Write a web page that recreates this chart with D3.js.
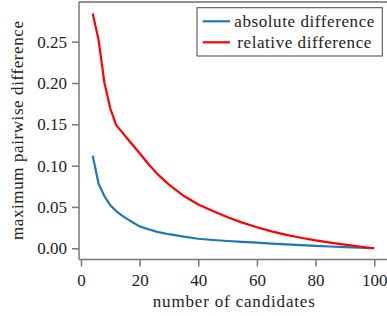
<!DOCTYPE html>
<html><head><meta charset="utf-8"><script src="https://cdn.jsdelivr.net/npm/d3@7"></script></head>
<body style="margin:0">
<svg width="387" height="316" font-family="Liberation Serif"></svg>
<script>
// number of candidates
var candidates = [4, 6, 8, 10, 12, 14, 16, 18, 20, 23, 26, 30, 35, 40, 45, 50, 55, 60, 65, 70, 75, 80, 85, 90, 95, 100];
// maximum pairwise difference
var absoluteDiff = [0.112, 0.078, 0.063, 0.052, 0.045, 0.0395, 0.035, 0.0305, 0.0265, 0.023, 0.0198, 0.017, 0.014,
                    0.0115, 0.0100, 0.0088, 0.0077, 0.0067, 0.0057, 0.0047, 0.0038, 0.0029, 0.0021, 0.0013, 0.0006, 0.0];
var relativeDiff = [0.284, 0.252, 0.200, 0.169, 0.149, 0.1405, 0.132, 0.1235, 0.115, 0.102, 0.090, 0.077, 0.0635,
                    0.053, 0.045, 0.0375, 0.031, 0.0255, 0.0205, 0.0162, 0.0127, 0.0096, 0.0068, 0.0043, 0.002, 0.0];
var xTicks = [0, 20, 40, 60, 80, 100];
var yTicks = [0.00, 0.05, 0.10, 0.15, 0.20, 0.25];
var seriesNames = ["absolute difference", "relative difference"];
var seriesColors = ["#1f77b4", "#ff0000"];

var svg = d3.select("svg");

var x = d3.scaleLinear().domain([-0.68, 104.7]).range([79, 388]);
var y = d3.scaleLinear().domain([-0.013, 0.298]).range([259, 2]);

function serifText(sel) {
  return sel.attr("font-family", "Liberation Serif")
            .style("font-family", "'Liberation Serif'")
            .attr("font-size", 17).attr("fill", "#222");
}

// spines
svg.append("line").attr("x1", 79).attr("x2", 388).attr("y1", 2).attr("y2", 2)
    .attr("stroke", "#222").attr("stroke-width", 1.2);
svg.append("line").attr("x1", 79).attr("x2", 79).attr("y1", 2).attr("y2", 259.5)
    .attr("stroke", "#777").attr("stroke-width", 1.5);
svg.append("line").attr("x1", 79).attr("x2", 388).attr("y1", 259.5).attr("y2", 259.5)
    .attr("stroke", "#777").attr("stroke-width", 1.5);

// x axis
var xAxis = svg.append("g").attr("transform", "translate(0,259.5)")
    .call(d3.axisBottom(x).tickValues(xTicks).tickSize(7).tickPadding(6).tickFormat(d3.format("d")));
xAxis.attr("font-family", "Liberation Serif").attr("font-size", 17);
xAxis.select(".domain").remove();
xAxis.selectAll("line").attr("stroke", "#777").attr("stroke-width", 1.5);
serifText(xAxis.selectAll("text")).attr("dy", "0.78em");

// y axis
var yAxis = svg.append("g").attr("transform", "translate(79,0)")
    .call(d3.axisLeft(y).tickValues(yTicks).tickSize(7).tickPadding(5).tickFormat(d3.format(".2f")));
yAxis.attr("font-family", "Liberation Serif").attr("font-size", 17);
yAxis.select(".domain").remove();
yAxis.selectAll("line").attr("stroke", "#777").attr("stroke-width", 1.5);
serifText(yAxis.selectAll("text")).attr("dy", "0.33em");

// lines
var line = d3.line()
    .x(function(d) { return x(d[0]); })
    .y(function(d) { return y(d[1]); });

[absoluteDiff, relativeDiff].forEach(function(vals, i) {
  svg.append("path")
      .datum(candidates.map(function(c, j) { return [c, vals[j]]; }))
      .attr("fill", "none")
      .attr("stroke", seriesColors[i])
      .attr("stroke-width", 2.2)
      .attr("stroke-linejoin", "round")
      .attr("d", line);
});

// axis labels
serifText(svg.append("text"))
    .attr("x", 233.8).attr("y", 307)
    .attr("text-anchor", "middle")
    .attr("textLength", 162).attr("lengthAdjust", "spacing")
    .text("number of candidates");

serifText(svg.append("text"))
    .attr("transform", "translate(22.5,130.5) rotate(-90)")
    .attr("text-anchor", "middle")
    .attr("textLength", 219).attr("lengthAdjust", "spacing")
    .text("maximum pairwise difference");

// legend
var legend = svg.append("g");
legend.append("rect")
    .attr("x", 197).attr("y", 7.7).attr("width", 185.3).attr("height", 48.3)
    .attr("fill", "#fff").attr("stroke", "#444").attr("stroke-width", 1);
var textWidths = [140, 134];
seriesNames.forEach(function(name, i) {
  var ly = 21.3 + i * 21;
  legend.append("line")
      .attr("x1", 202.7).attr("x2", 230).attr("y1", ly).attr("y2", ly)
      .attr("stroke", seriesColors[i]).attr("stroke-width", 2.2);
  serifText(legend.append("text"))
      .attr("x", 304.3).attr("y", ly + 5.5)
      .attr("text-anchor", "middle")
      .attr("textLength", textWidths[i]).attr("lengthAdjust", "spacing")
      .text(name);
});
</script>
</body>
</html>
